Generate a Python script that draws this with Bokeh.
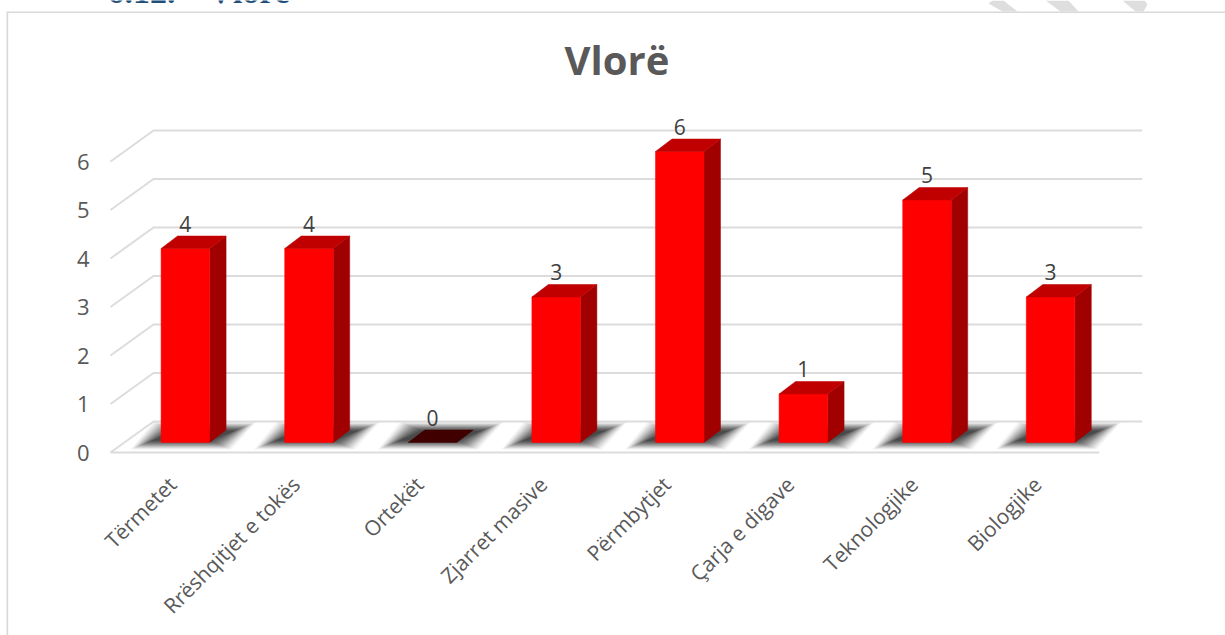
from bokeh.plotting import figure
from bokeh.models import Range1d, FixedTicker, Label, PolyAnnotation, LinearAxis
from bokeh.embed import file_html
from bokeh.resources import INLINE
from bokeh.core.properties import value

categories = ["Tërmetet", "Rrëshqitjet e tokës", "Ortekët", "Zjarret masive",
              "Përmbytjet", "Çarja e digave", "Teknologjike", "Biologjike"]
values = [4, 4, 0, 3, 6, 1, 5, 3]
y_ticks = [0, 1, 2, 3, 4, 5, 6]

W, H = 1225, 635
CAT_PX, UNIT_PX = 123.6, 48.5
x0_px, y0_px = 110, 452                    # front-left corner of the floor

DX, DY = 43 / CAT_PX, 31 / UNIT_PX         # depth of the 3-D box
BAR_W = 48.5 / CAT_PX
FRONT = 9.4 / 31                           # bar front plane, fraction of depth
BDX, BDY = 16.5 / CAT_PX, 12.5 / UNIT_PX   # depth of a bar

p = figure(width=W, height=H, output_backend="svg", toolbar_location=None,
           x_range=Range1d(-0.5 - x0_px / CAT_PX, -0.5 + (W - x0_px) / CAT_PX),
           y_range=Range1d((y0_px - H) / UNIT_PX, y0_px / UNIT_PX),
           min_border=0, x_axis_type=None, y_axis_type=None)
p.outline_line_color = None
p.grid.visible = False
p.background_fill_color = "white"

FONT = "Open Sans"
x_left, x_right = -0.5, len(categories) - 0.5

xa = LinearAxis(ticker=FixedTicker(ticks=list(range(len(categories)))),
                fixed_location=0,
                major_label_overrides={i: c for i, c in enumerate(categories)},
                major_label_orientation=0.785398, major_label_text_font=FONT,
                major_label_text_font_size="21px", major_label_text_color="#595959",
                major_label_standoff=28, major_tick_out=0, major_tick_in=0,
                axis_line_color=None, major_tick_line_color=None, minor_tick_line_color=None)
p.add_layout(xa, "below")
ya = LinearAxis(ticker=FixedTicker(ticks=y_ticks), fixed_location=x_left,
                major_label_text_font=FONT,
                major_label_text_font_size="22px", major_label_text_color="#595959",
                major_label_standoff=21, major_tick_out=0, major_tick_in=0,
                axis_line_color=None, major_tick_line_color=None, minor_tick_line_color=None)
p.add_layout(ya, "left")

# grid lines running along the side wall and the back wall
grid_xs, grid_ys = [], []
for t in y_ticks:
    grid_xs.append([x_left, x_left + DX, x_right + DX])
    grid_ys.append([t, t + DY, t + DY])
p.multi_line(grid_xs, grid_ys, line_color="#dcdcdc", line_width=2)
# front edge of the floor
p.line([x_left, x_right], [0, 0], line_color="#dcdcdc", line_width=2)

# blurred floor shadows
LAYERS = 24
for i in range(len(categories)):
    for k in range(LAYERS):
        f = k / LAYERS
        d = 0.19 * f
        yb = 0.06 + 0.20 * f
        yt = 0.63 - 0.20 * f
        p.patch([i - 0.34 + d, i + 0.48 - d, i + 0.68 - d, i - 0.16 + d],
                [yb, yb, yt, yt], fill_color="#303030",
                fill_alpha=0.025 + 0.11 * f, line_color=None)

# bars
fx = [i + DX * FRONT for i in range(len(values))]
fy = 10 / UNIT_PX
for i, v in enumerate(values):
    l, r = fx[i] - BAR_W / 2, fx[i] + BAR_W / 2
    b, t = fy, fy + v
    if v > 0:
        p.patch([r, r + BDX, r + BDX, r], [b, b + BDY, t + BDY, t],
                fill_color="#a00000", line_color="#a00000", line_width=0.5)
        p.quad(left=[l], right=[r], bottom=[b], top=[t],
               fill_color="#ff0000", line_color="#ff0000", line_width=0.5)
    p.patch([l, r, r + BDX, l + BDX], [t, t, t + BDY, t + BDY],
            fill_color="#c00000" if v > 0 else "#400000",
            line_color="#c00000" if v > 0 else "#400000", line_width=0.5)

# data labels
p.text(x=fx, y=[fy + v for v in values], text=[str(v) for v in values],
       text_font=value(FONT), text_font_size="21px", text_color="#404040",
       text_align="center", text_baseline="alphabetic", y_offset=-25)

# chart title
p.add_layout(Label(x=564, y=59, x_units="canvas", y_units="canvas", text="Vlorë",
                   text_font=FONT, text_font_size="40px", text_font_style="bold",
                   text_color="#595959", text_baseline="alphabetic"))

# chart frame (top and left edges)
p.add_layout(PolyAnnotation(xs=[6, W, W, 7.7, 7.7, 6], ys=[11, 11, 12.5, 12.5, H, H],
                            xs_units="canvas", ys_units="canvas",
                            fill_color="#d9d9d9", fill_alpha=1, line_color=None))
# page leftovers above the frame
for xs, ys in [([988, 992, 1003, 1017, 1002], [3, 0, 0, 11, 11]),
               ([1045, 1068, 1078, 1060], [0, 0, 11, 11]),
               ([1122, 1144, 1147, 1143, 1135], [0, 0, 4, 11, 11])]:
    p.add_layout(PolyAnnotation(xs=xs, ys=ys, xs_units="canvas", ys_units="canvas",
                                fill_color="#dedede", fill_alpha=1, line_color=None))
for x, txt in [(107, "6.12."), (208, "Vlorë")]:
    p.add_layout(Label(x=x, y=-9, x_units="canvas", y_units="canvas", text=txt,
                       text_font="Liberation Serif", text_font_size="34px",
                       text_font_style="bold", text_color="#1f4e79", text_baseline="alphabetic"))

open("out.html", "w").write(file_html(p, INLINE))
